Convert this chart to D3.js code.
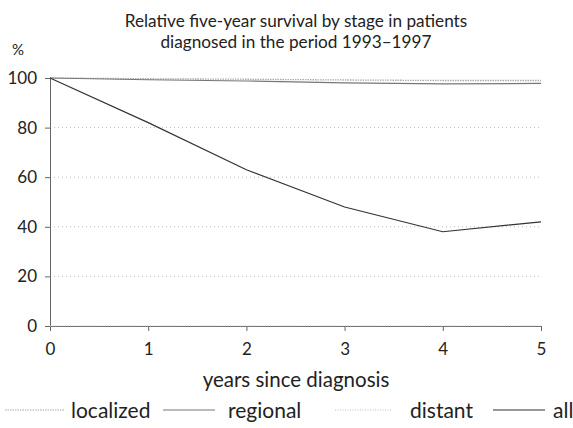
<!DOCTYPE html>
<html><head><meta charset="utf-8">
<script src="https://cdn.jsdelivr.net/npm/d3@7"></script>
<style>body{margin:0;background:#fff}svg{display:block}text{font-family:Lato,"Open Sans",sans-serif;fill:#222}</style>
</head><body><svg id="c" width="573" height="428"></svg>
<script>
const years = [0,1,2,3,4,5];
const localized = [100,99.7,99.5,99.2,99.0,99.0];
const regional = [100,99.3,98.8,98.0,97.6,97.8];
const distant = [0,0,0,0,0,0];
const all = [100,82,63,48,38,42];
const yTicks = [0,20,40,60,80,100];
const xTicks = [0,1,2,3,4,5];
const titleLines = ["Relative five-year survival by stage in patients","diagnosed in the period 1993\u20131997"];
const seriesNames = ["localized","regional","distant","all"];

const svg = d3.select("#c");
const x = d3.scaleLinear().domain([0,5]).range([50,541]);
const y = d3.scaleLinear().domain([0,100]).range([326,78]);

svg.selectAll("text.title").data(titleLines).join("text")
  .attr("x",296).attr("y",(d,i)=>27+i*21).attr("text-anchor","middle")
  .attr("font-size",17.2).attr("fill","#333").text(d=>d);
svg.append("text").attr("x",12).attr("y",55).attr("font-size",15).text("%");

// grid
svg.append("g").selectAll("line").data([20,40,60,80]).join("line")
  .attr("x1",x(0)).attr("x2",x(5)).attr("y1",d=>y(d)).attr("y2",d=>y(d))
  .attr("stroke","#bbb").attr("stroke-width",1).attr("stroke-dasharray","1,3");

const yAxis = svg.append("g").attr("transform",`translate(${x(0)},0)`)
  .call(d3.axisLeft(y).tickValues(yTicks).tickFormat(d3.format("d")).tickSize(5).tickPadding(8));
const xAxis = svg.append("g").attr("transform",`translate(0,${y(0)})`)
  .call(d3.axisBottom(x).tickValues(xTicks).tickFormat(d3.format("d")).tickSize(5).tickPadding(12));
[yAxis,xAxis].forEach(a=>{
  a.select(".domain").attr("stroke","#666");
  a.selectAll(".tick line").attr("stroke","#666");
  a.selectAll("text").attr("font-size",17).attr("fill","#222").attr("font-family","Lato,sans-serif");
});
svg.append("text").attr("x",296).attr("y",387).attr("text-anchor","middle")
  .attr("font-size",20.5).text("years since diagnosis");

const styles = {
  localized:{stroke:"#aaa",w:1.3,dash:"1.5,1"},
  regional:{stroke:"#777",w:1.2,dash:null},
  distant:{stroke:"#bbb",w:1.2,dash:"1,1.5"},
  all:{stroke:"#333",w:1.2,dash:null}
};
const data = {localized,regional,distant,all};
const line = d3.line().x((d,i)=>x(years[i])).y(d=>y(d));
seriesNames.forEach(n=>{
  svg.append("path").datum(data[n]).attr("d",line).attr("fill","none")
    .attr("stroke",styles[n].stroke).attr("stroke-width",styles[n].w)
    .attr("stroke-dasharray",styles[n].dash);
});

// legend
const leg = [{n:"localized",x1:5,x2:65,tx:71},{n:"regional",x1:163,x2:215,tx:228},
             {n:"distant",x1:335,x2:392,tx:410},{n:"all",x1:493,x2:545,tx:553}];
leg.forEach(l=>{
  svg.append("line").attr("x1",l.x1).attr("x2",l.x2).attr("y1",410).attr("y2",410)
    .attr("stroke",styles[l.n].stroke).attr("stroke-width",1.2).attr("stroke-dasharray",styles[l.n].dash);
  svg.append("text").attr("x",l.tx).attr("y",418).attr("font-size",21).text(l.n);
});
</script></body></html>
